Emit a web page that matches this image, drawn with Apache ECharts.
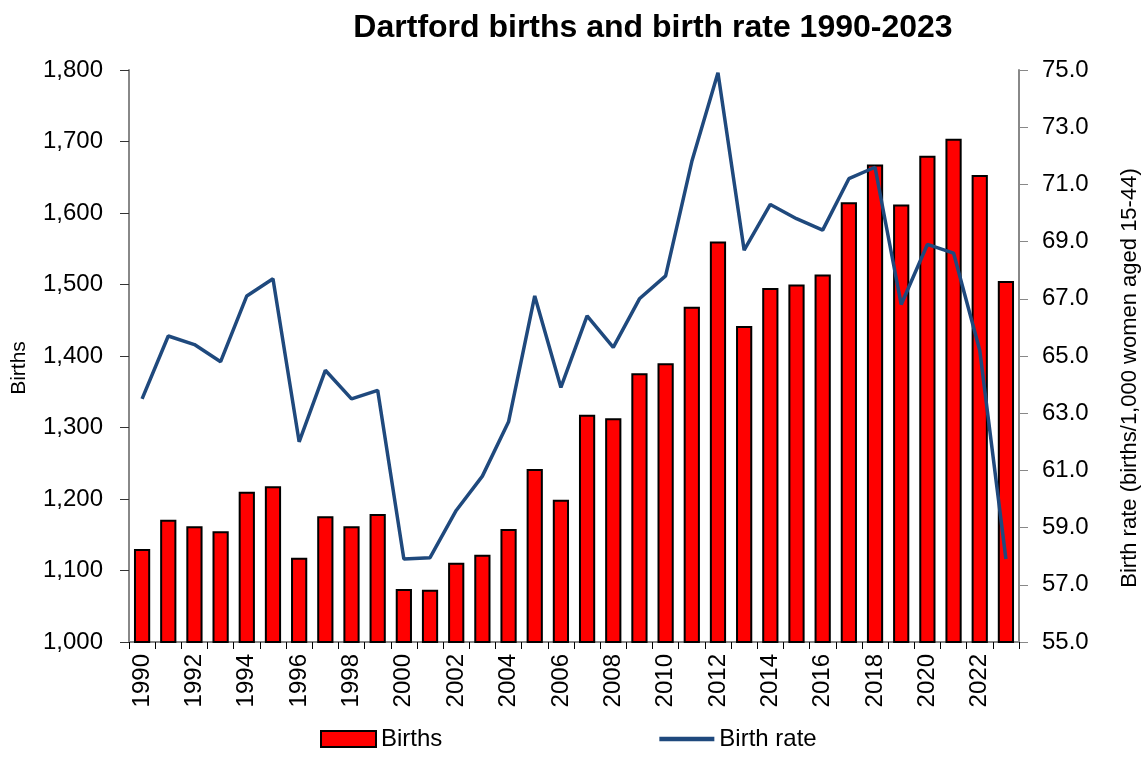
<!DOCTYPE html>
<html>
<head>
<meta charset="utf-8">
<script src="https://cdn.jsdelivr.net/npm/echarts@6/dist/echarts.min.js"></script>
<style>
  html, body { margin: 0; padding: 0; background: #fff; }
  #chart { width: 1148px; height: 758px; }
</style>
</head>
<body>
<div id="chart"></div>
<script>
  var years = ['1990', '1991', '1992', '1993', '1994', '1995', '1996', '1997', '1998', '1999',
    '2000', '2001', '2002', '2003', '2004', '2005', '2006', '2007', '2008', '2009',
    '2010', '2011', '2012', '2013', '2014', '2015', '2016', '2017', '2018', '2019',
    '2020', '2021', '2022', '2023']
  var births = [1130, 1171, 1162, 1155, 1210, 1218, 1118, 1176, 1162, 1179,
    1074, 1073, 1111, 1122, 1158, 1242, 1199, 1318, 1313, 1376,
    1390, 1469, 1560, 1442, 1495, 1500, 1514, 1615, 1668, 1612,
    1680, 1704, 1653, 1505]
  var birthRate = [63.5, 65.7, 65.4, 64.8, 67.1, 67.7, 62.0, 64.5, 63.5, 63.8,
    57.9, 57.95, 59.6, 60.8, 62.7, 67.1, 63.9, 66.4, 65.3, 67.0,
    67.8, 71.8, 74.9, 68.7, 70.3, 69.8, 69.4, 71.2, 71.6, 66.8,
    68.9, 68.6, 65.2, 57.9]

  var font = 'Liberation Sans, Arial, sans-serif'
  var chart = echarts.init(document.getElementById('chart'))

  chart.setOption({
    backgroundColor: '#ffffff',
    animation: false,
    textStyle: { fontFamily: font },
    title: {
      text: 'Dartford births and birth rate 1990-2023',
      left: 648,
      textAlign: 'center',
      top: 7,
      textStyle: { fontSize: 32, fontWeight: 'bold', color: '#000', fontFamily: font },
    },
    legend: {
      bottom: 2,
      left: 315,
      itemGap: 217,
      itemWidth: 55,
      itemHeight: 16,
      textStyle: { fontSize: 24, color: '#000', fontFamily: font },
      data: [
        { name: 'Births', icon: 'rect' },
        { name: 'Birth rate', icon: 'path://M0,0h48v4h-48z' },
      ],
    },
    grid: {
      left: 129,
      right: 129,
      top: 70,
      bottom: 116,
      outerBoundsMode: 'none',
    },
    xAxis: {
      type: 'category',
      data: years,
      axisLine: { lineStyle: { color: '#888', width: 2 } },
      axisTick: {
        show: true,
        interval: 0,
        length: 7,
        lineStyle: { color: '#000', width: 1 },
      },
      axisLabel: {
        interval: 1,
        rotate: 90,
        fontSize: 24,
        color: '#000',
        margin: 12,
      },
    },
    yAxis: [
      {
        type: 'value',
        name: 'Births',
        nameLocation: 'middle',
        nameRotate: 90,
        nameGap: 99,
        nameTextStyle: { fontSize: 21, color: '#000', padding: [0, 24, 0, 0] },
        min: 1000,
        max: 1800,
        interval: 100,
        splitLine: { show: false },
        axisLine: { show: true, lineStyle: { color: '#888', width: 2 } },
        axisTick: { show: true, length: 9, lineStyle: { color: '#333', width: 1 } },
        axisLabel: {
          fontSize: 24,
          color: '#000',
          margin: 26,
          formatter: function (v) {
            return v.toLocaleString('en-GB')
          },
        },
      },
      {
        type: 'value',
        name: 'Birth rate (births/1,000 women aged 15-44)',
        nameLocation: 'middle',
        nameRotate: 90,
        nameGap: 100,
        nameTextStyle: { fontSize: 22, color: '#000', padding: [0, 44, 0, 0] },
        min: 55,
        max: 75,
        interval: 2,
        position: 'right',
        splitLine: { show: false },
        axisLine: { show: true, lineStyle: { color: '#888', width: 2 } },
        axisTick: { show: true, length: 9, lineStyle: { color: '#888', width: 1 } },
        axisLabel: {
          fontSize: 24,
          color: '#000',
          margin: 23,
          formatter: function (v) {
            return v.toFixed(1)
          },
        },
      },
    ],
    series: [
      {
        name: 'Births',
        type: 'bar',
        yAxisIndex: 0,
        data: births,
        barCategoryGap: '38%',
        itemStyle: {
          color: '#ff0000',
          borderColor: '#000',
          borderWidth: 2,
        },
      },
      {
        name: 'Birth rate',
        type: 'line',
        yAxisIndex: 1,
        data: birthRate,
        symbol: 'none',
        lineStyle: { color: '#1f497d', width: 3.5 },
        itemStyle: { color: '#1f497d' },
      },
    ],
  })
</script>
</body>
</html>
